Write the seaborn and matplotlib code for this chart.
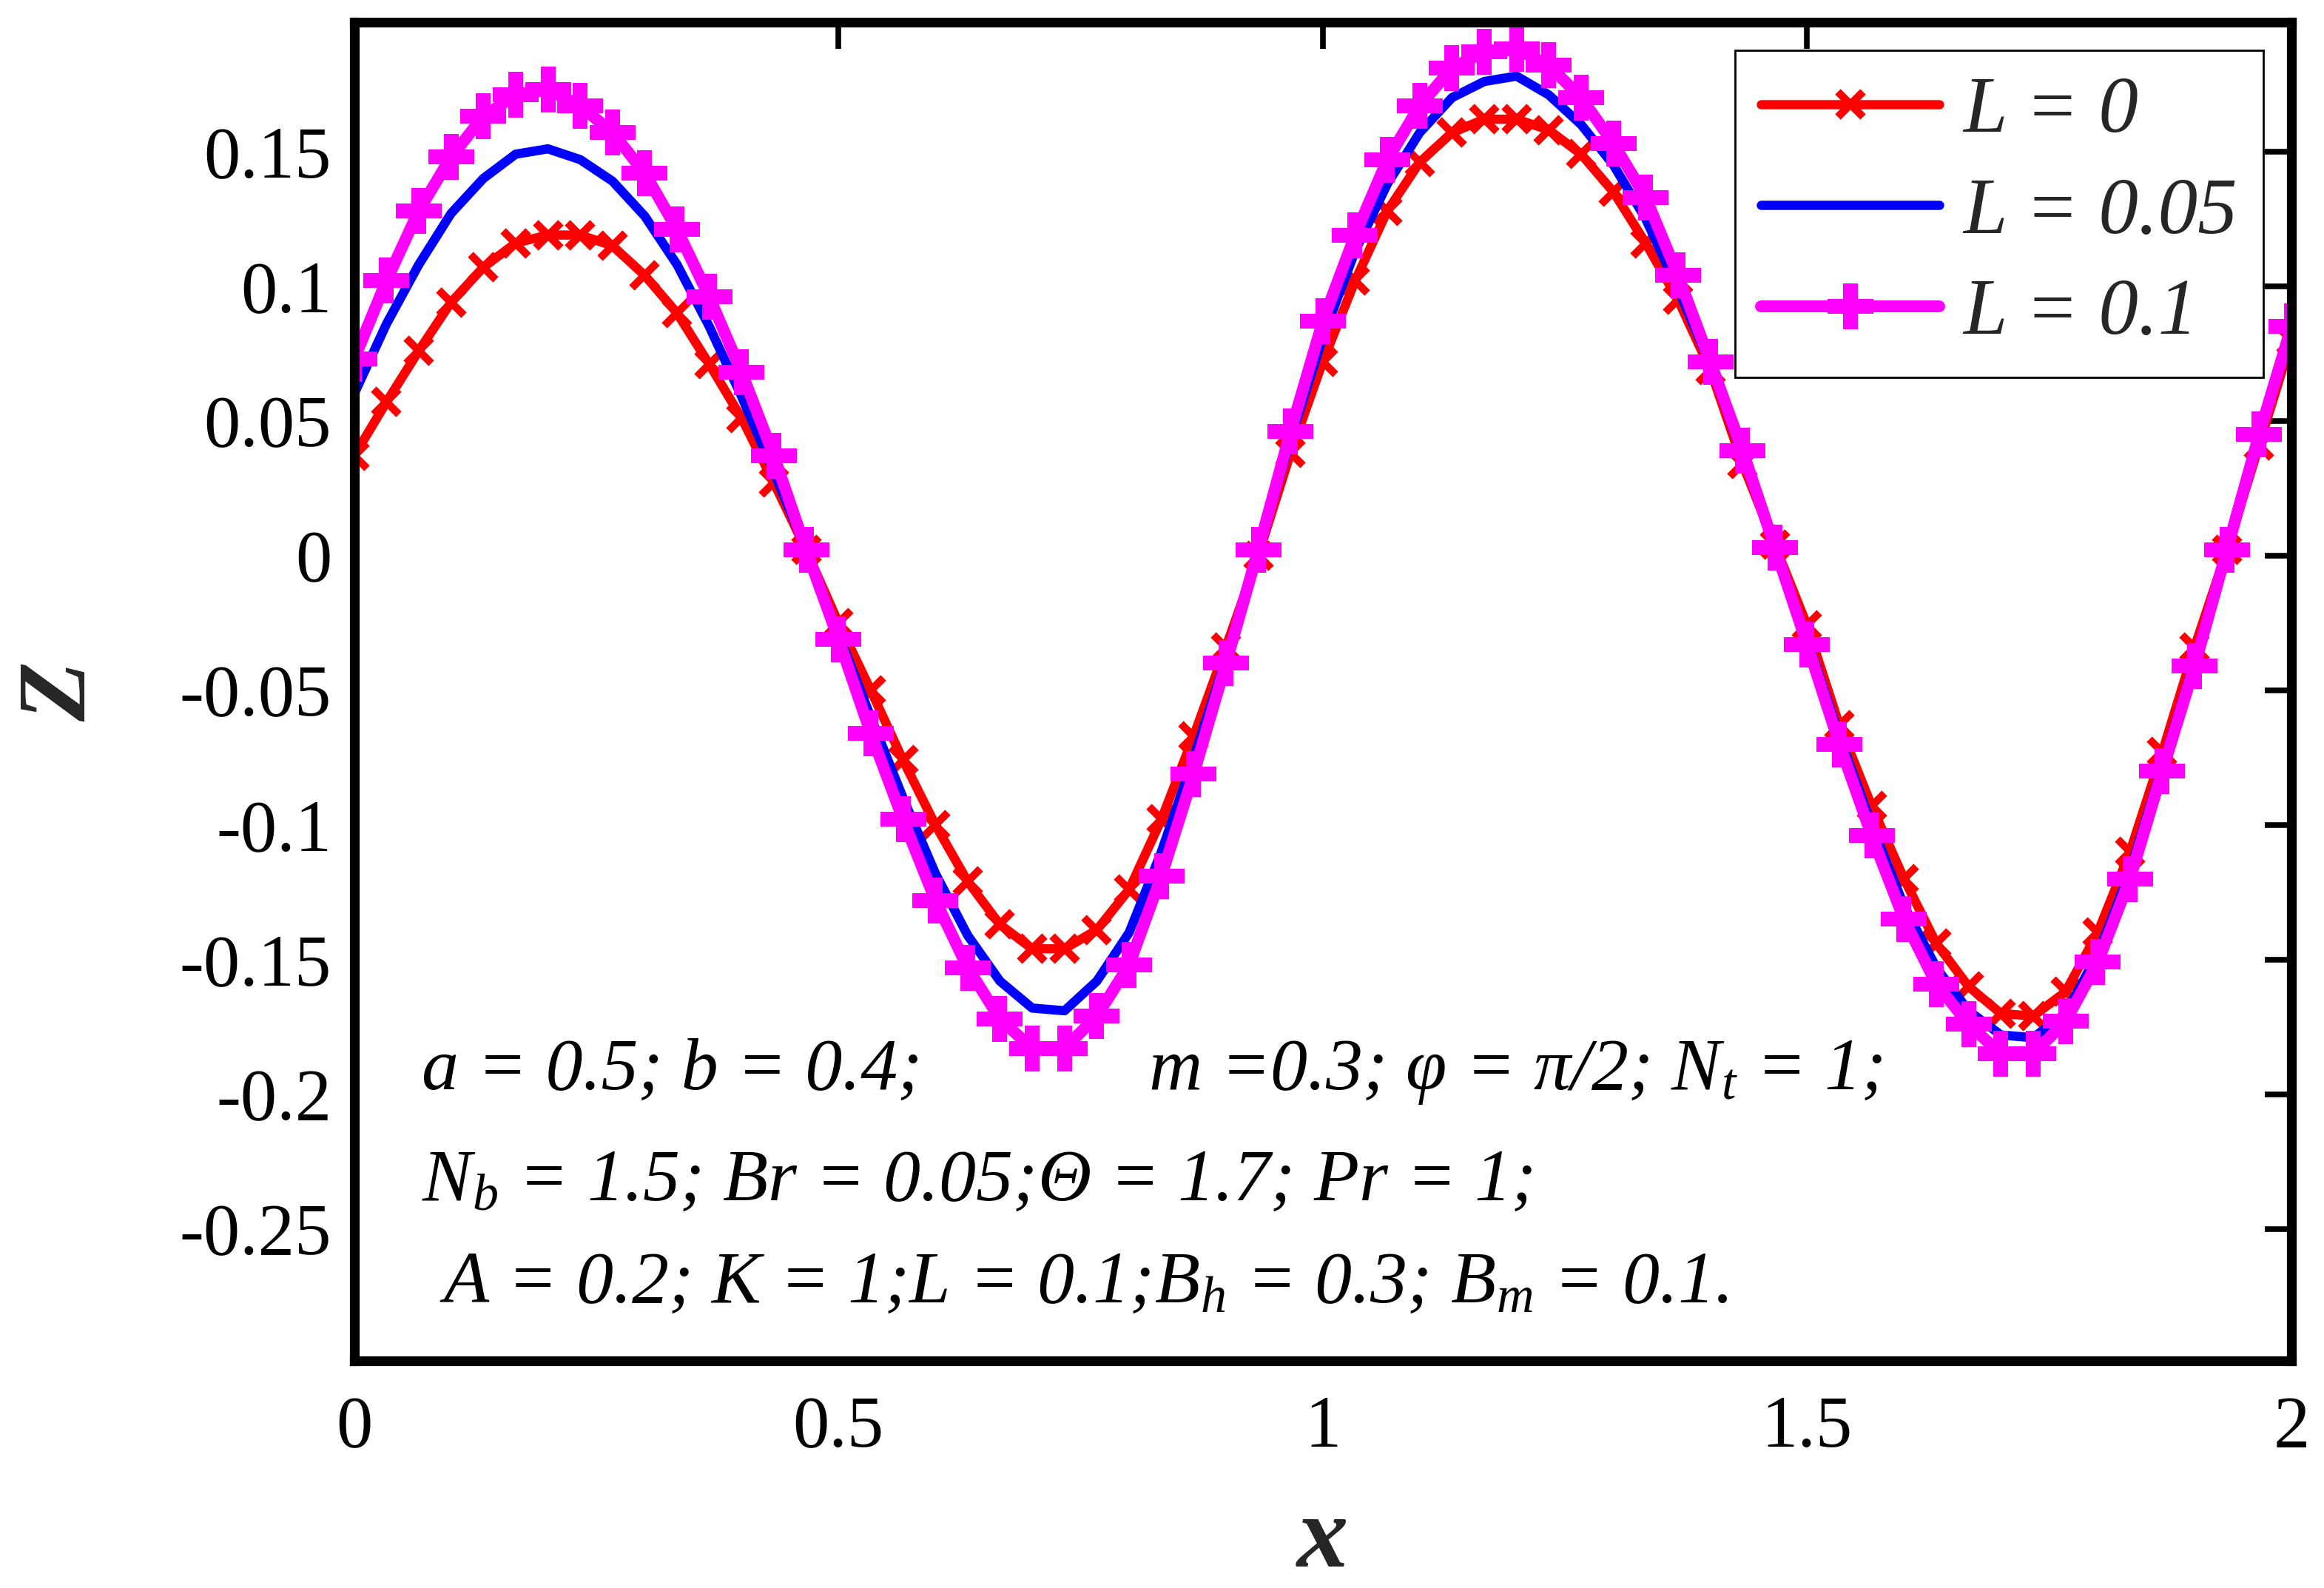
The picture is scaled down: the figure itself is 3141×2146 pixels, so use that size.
import numpy as np
import pandas as pd
import matplotlib
matplotlib.use('Agg')
import matplotlib.pyplot as plt
import seaborn as sns

# x grid: 61 samples over [0, 2]
x = np.linspace(0, 2, 61)

z_L0 = [0.037, 0.057, 0.076, 0.094, 0.107, 0.116, 0.119, 0.119, 0.115, 0.104,
        0.090, 0.071, 0.051, 0.027, 0.002, -0.025, -0.050, -0.076, -0.100, -0.121,
        -0.137, -0.146, -0.146, -0.139, -0.124, -0.098, -0.067, -0.034, 0.000, 0.038,
        0.072, 0.102, 0.128, 0.146, 0.157, 0.162, 0.162, 0.158, 0.149, 0.135,
        0.116, 0.095, 0.069, 0.034, 0.004, -0.026, -0.063, -0.093, -0.120, -0.144,
        -0.160, -0.170, -0.171, -0.162, -0.140, -0.110, -0.073, -0.034, 0.002, 0.041,
        0.080]

z_L005 = [0.060, 0.086, 0.108, 0.127, 0.140, 0.149, 0.151, 0.147, 0.139, 0.126,
          0.108, 0.085, 0.059, 0.031, 0.002, -0.029, -0.060, -0.090, -0.118, -0.141,
          -0.158, -0.168, -0.169, -0.158, -0.140, -0.110, -0.075, -0.038, 0.001, 0.043,
          0.081, 0.113, 0.138, 0.157, 0.170, 0.176, 0.178, 0.171, 0.160, 0.145,
          0.125, 0.099, 0.071, 0.037, 0.003, -0.031, -0.067, -0.100, -0.130, -0.153,
          -0.169, -0.178, -0.179, -0.170, -0.148, -0.117, -0.078, -0.039, 0.002, 0.044,
          0.083]

z_L01 = [0.073, 0.102, 0.128, 0.148, 0.163, 0.171, 0.173, 0.167, 0.157, 0.142,
         0.121, 0.096, 0.068, 0.037, 0.002, -0.031, -0.066, -0.098, -0.128, -0.153,
         -0.172, -0.183, -0.183, -0.171, -0.152, -0.119, -0.081, -0.040, 0.002, 0.046,
         0.087, 0.119, 0.147, 0.167, 0.181, 0.187, 0.188, 0.182, 0.170, 0.153,
         0.133, 0.104, 0.072, 0.039, 0.003, -0.033, -0.070, -0.104, -0.135, -0.159,
         -0.174, -0.185, -0.185, -0.173, -0.151, -0.120, -0.080, -0.041, 0.002, 0.045,
         0.085]

labels = ['L = 0', 'L = 0.05', 'L = 0.1']
xticks = [0, 0.5, 1, 1.5, 2]
yticks = [-0.25, -0.2, -0.15, -0.1, -0.05, 0, 0.05, 0.1, 0.15]
ytick_labels = ['-0.25', '-0.2', '-0.15', '-0.1', '-0.05', '0', '0.05', '0.1', '0.15']
xtick_labels = ['0', '0.5', '1', '1.5', '2']

sns.set_theme(style='white')
serif = ['Liberation Serif', 'DejaVu Serif']
plt.rcParams['font.family'] = serif
plt.rcParams['mathtext.fontset'] = 'custom'
plt.rcParams['mathtext.rm'] = 'Liberation Serif'
plt.rcParams['mathtext.it'] = 'Liberation Serif:italic'

fig = plt.figure(figsize=(31.41, 21.46), dpi=100)
ax = fig.add_axes([0.1524, 0.143, 0.8336, 0.843])

sns.lineplot(x=x, y=z_L0, ax=ax, color='#ff0000', linewidth=9, marker='x',
             markersize=25, markeredgewidth=7.5, markeredgecolor='#ff0000',
             label=labels[0], sort=False)
sns.lineplot(x=x, y=z_L005, ax=ax, color='#0000ff', linewidth=9,
             label=labels[1], sort=False)
sns.lineplot(x=x, y=z_L01, ax=ax, color='#ff00ff', linewidth=11.5, marker='P',
             markersize=45, markeredgewidth=0, markeredgecolor='#ff00ff',
             label=labels[2], sort=False)

ax.set_xlim(0, 2)
ax.set_ylim(-0.299, 0.198)
ax.set_xticks(xticks)
ax.set_xticklabels(xtick_labels)
ax.set_yticks(yticks)
ax.set_yticklabels(ytick_labels)
ax.tick_params(direction='in', length=26, width=5.5, top=True, right=True,
               labelsize=71, colors='black')
ax.tick_params(axis='x', pad=34)
ax.tick_params(axis='y', pad=22)
for s in ax.spines.values():
    s.set_linewidth(9.5)
    s.set_color('black')

ax.set_xlabel('x', fontsize=100, fontweight='bold', fontstyle='italic')
ax.set_ylabel('Z', fontsize=95, fontweight='bold', fontstyle='italic')
ax.xaxis.set_label_coords(0.5, -0.1)
ax.yaxis.set_label_coords(-0.128, 0.5)

leg = ax.legend(loc='upper right', bbox_to_anchor=(0.9855, 0.979),
                borderaxespad=0, prop={'family': serif, 'style': 'italic', 'size': 77},
                handlelength=2.25, handletextpad=0.3, labelspacing=0.36,
                borderpad=0.33, fancybox=False, framealpha=1, edgecolor='black')
leg.get_frame().set_linewidth(2)

txt = dict(transform=ax.transAxes, fontsize=72, fontstyle='italic', family=serif,
           va='baseline', ha='left', color='black')
ax.text(0.035, 0.203, 'a = 0.5; b = 0.4;', **txt)
ax.text(0.41, 0.203, 'm =0.3; φ = π/2; N$_t$ = 1;', **txt)
ax.text(0.035, 0.12, 'N$_b$ = 1.5; Br = 0.05;Θ = 1.7; Pr = 1;', **txt)
ax.text(0.044, 0.044, 'A = 0.2; K = 1;L = 0.1;B$_h$ = 0.3; B$_m$ = 0.1.', **txt)

fig.savefig('out.png', dpi=100, facecolor='white')
